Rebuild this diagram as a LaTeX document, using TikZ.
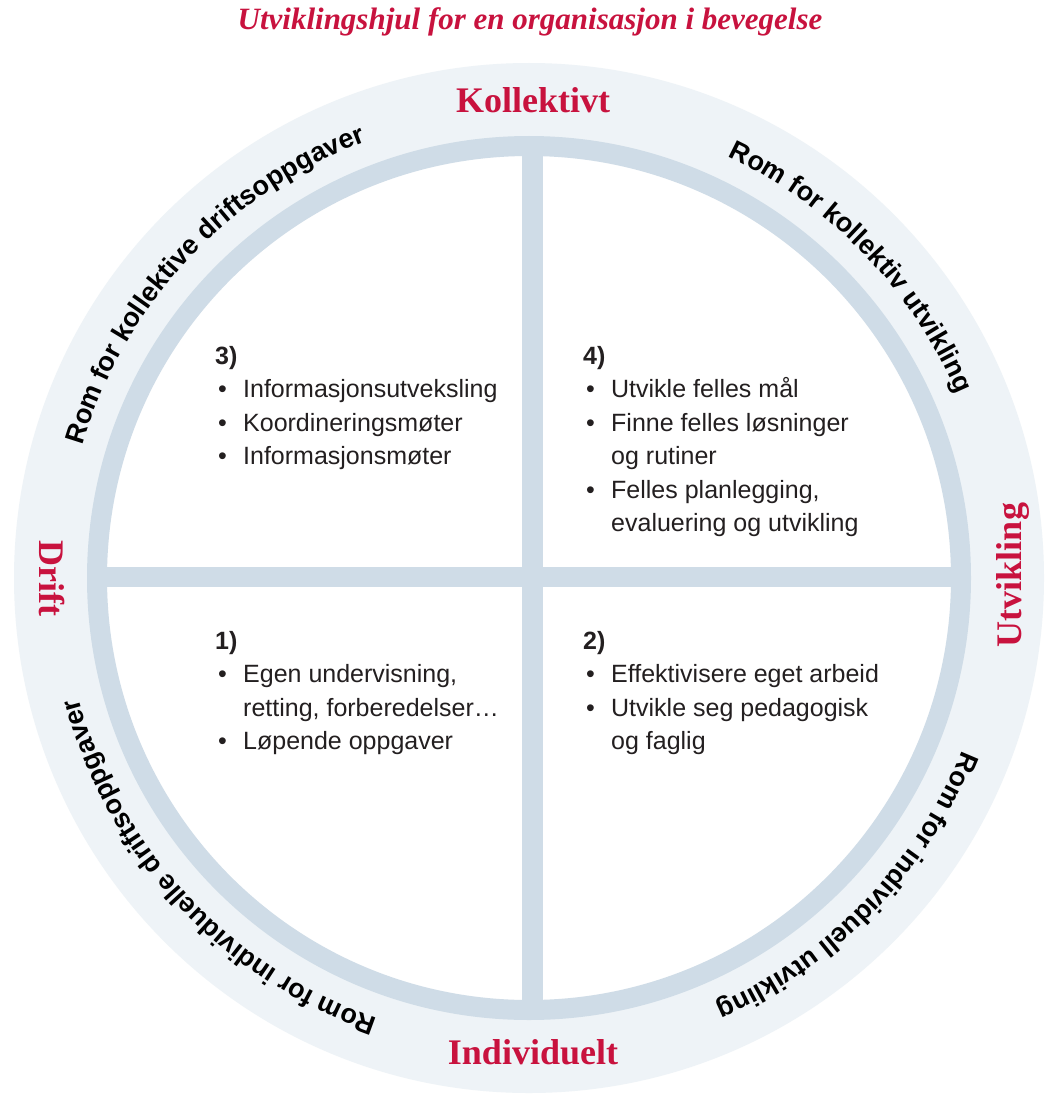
\documentclass[tikz,border=0pt]{standalone}
\usepackage{fontspec}
\setmainfont{Liberation Sans}
\newfontfamily\labelfont{Liberation Serif}
\newfontfamily\bodyfont{Liberation Sans}
\usetikzlibrary{calc,decorations.text}
\definecolor{bandc}{RGB}{238,243,247}
\definecolor{ringc}{RGB}{207,220,231}
\definecolor{redc}{RGB}{200,18,62}
\definecolor{textc}{RGB}{35,31,32}
\newcommand{\curvefont}{\bodyfont\bfseries\fontsize{27}{30}\selectfont}
\newcommand{\bul}{\makebox[28pt][l]{\hspace{3pt}\textbullet}}
\newcommand{\ind}{\hspace*{28pt}}
\tikzset{
  spoke/.style={draw=ringc,line width=20pt},
  pole/.style={font=\labelfont\bfseries\fontsize{36}{40}\selectfont,text=redc,inner sep=0pt},
  quad/.style={anchor=base west,inner sep=0pt,font=\bodyfont\fontsize{25}{33.5}\selectfont,text=textc},
  arctext/.style={decorate,decoration={text along path,text align=center,text={|\curvefont|#1}}},
}

\begin{document}
\begin{tikzpicture}[x=1pt,y=1pt]
  \fill[white] (0,0) rectangle (1044,-1097);
  \useasboundingbox (0,0) rectangle (1044,-1097);
  \coordinate (C) at (529,-578);
  % wheel
  \fill[bandc] (C) circle[radius=515];
  \fill[white] (C) circle[radius=432];
  \coordinate (T) at (532,-146); \coordinate (B) at (532,-1010);
  \coordinate (L) at (97,-577); \coordinate (R) at (961,-577);
  \draw[spoke,line width=21pt] (T) -- (B);
  \draw[spoke] (L) -- (R);
  \draw[spoke] (C) circle[radius=432];
  % headings
  \node[font=\labelfont\bfseries\itshape\fontsize{31}{34}\selectfont,text=redc](title) at (530,-22){Utviklingshjul for en organisasjon i bevegelse};
  \node[pole](koll) at (533,-100){Kollektivt};
  \node[pole](indiv) at (533,-1052){Individuelt};
  \node[pole,rotate=-90](drift) at (52,-578){Drift};
  \node[pole,rotate=90](utv) at (1013,-575){Utvikling};
  % curved texts
  \path[arctext={Rom for kollektive driftsoppgaver}] ($(C)+(177:466)$) arc[start angle=177,end angle=97,radius=466];
  \path[arctext={Rom for kollektiv utvikling}] ($(C)+(84:466)$) arc[start angle=84,end angle=4,radius=466];
  \path[arctext={Rom for individuell utvikling}] ($(C)+(-4:466)$) arc[start angle=-4,end angle=-84,radius=466];
  \path[arctext={Rom for individuelle driftsoppgaver}] ($(C)+(-97:466)$) arc[start angle=-97,end angle=-177,radius=466];
  % quadrants
  \node[quad](q3) at (215,-364){\parbox[t]{320pt}{\textbf{3)}\\\bul Informasjonsutveksling\\\bul Koordineringsmøter\\\bul Informasjonsmøter}};
  \node[quad](q4) at (583,-364){\parbox[t]{340pt}{\textbf{4)}\\\bul Utvikle felles mål\\\bul Finne felles løsninger\\\ind og rutiner\\\bul Felles planlegging,\\\ind evaluering og utvikling}};
  \node[quad](q1) at (215,-649){\parbox[t]{320pt}{\textbf{1)}\\\bul Egen undervisning,\\\ind retting, forberedelser\ldots\\\bul Løpende oppgaver}};
  \node[quad](q2) at (583,-649){\parbox[t]{340pt}{\textbf{2)}\\\bul Effektivisere eget arbeid\\\bul Utvikle seg pedagogisk\\\ind og faglig}};
\end{tikzpicture}
\end{document}
